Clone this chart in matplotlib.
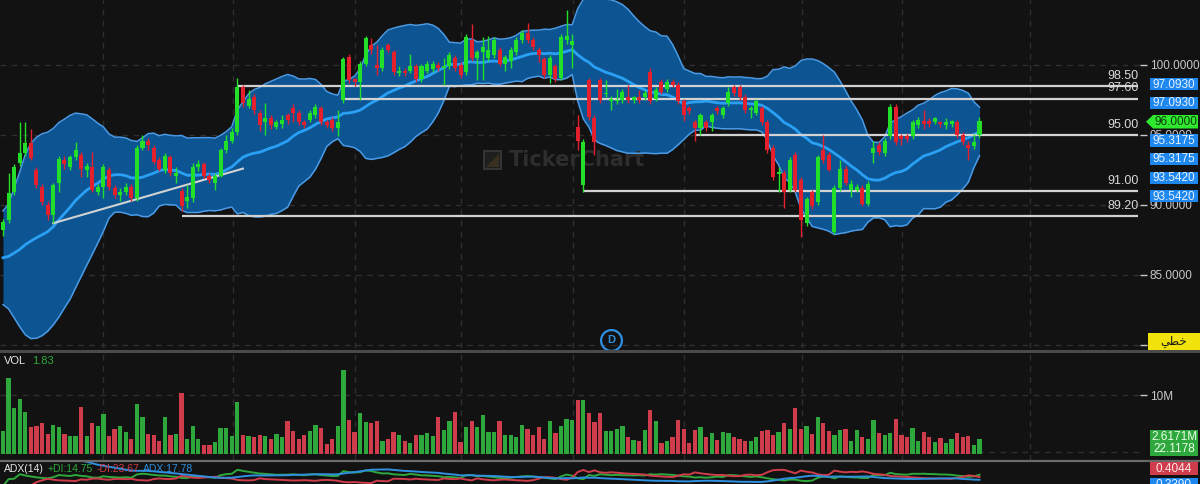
import numpy as np
import pandas as pd
import matplotlib
matplotlib.use("Agg")
import matplotlib.pyplot as plt
from matplotlib.patches import Rectangle, Polygon
from matplotlib.lines import Line2D
import matplotlib.transforms as mtransforms

# ---------------- data ----------------
opens = [88.2, 88.9, 90.9, 93.0, 93.7, 94.4, 92.5, 91.3, 90.0, 89.3,
         91.6, 93.2, 92.7, 93.4, 93.6, 92.5, 92.7, 90.9, 91.3, 92.5,
         91.2, 90.7, 90.9, 91.3, 90.5, 94.1, 94.6, 94.1, 93.2, 92.5,
         93.4, 92.1, 91.0, 90.3, 90.5, 92.7, 92.9, 92.1, 91.6, 92.1,
         93.9, 94.6, 95.2, 98.4, 97.1, 97.7, 96.6, 95.9, 96.2, 95.6,
         95.8, 96.4, 96.9, 96.6, 95.9, 96.1, 96.4, 96.9, 95.9, 96.1,
         95.5, 97.5, 100.6, 99.0, 98.8, 100.1, 101.4, 100.0, 99.8, 101.4,
         100.9, 99.4, 99.6, 99.6, 99.9, 99.0, 99.6, 99.7, 100.0, 99.8,
         99.9, 100.5, 100.0, 99.5, 101.8, 100.5, 100.9, 100.5, 100.7, 101.1,
         100.1, 100.3, 100.9, 101.8, 102.3, 101.8, 101.1, 100.4, 99.3, 99.9,
         99.1, 101.8, 101.4, 95.6, 91.4, 98.9, 96.2, 98.9, 97.9, 97.4,
         97.4, 97.5, 97.7, 97.5, 97.7, 97.7, 99.5, 97.6, 98.8, 98.3,
         98.8, 98.6, 97.4, 96.9, 95.9, 95.5, 95.9, 95.9, 96.9, 96.4,
         97.3, 98.4, 98.4, 97.7, 96.8, 96.6, 96.9, 95.9, 94.1, 92.2,
         92.3, 91.1, 93.6, 91.8, 88.7, 90.9, 90.2, 93.9, 93.6, 88.1,
         91.2, 92.6, 91.1, 91.1, 91.2, 90.1, 93.7, 94.3, 93.7, 94.9,
         97.0, 94.9, 94.9, 94.9, 95.7, 96.0, 96.0, 95.9, 95.9, 95.7,
         95.8, 95.9, 95.0, 94.3, 94.2, 95.0]
highs = [89.0, 92.3, 92.9, 95.9, 95.9, 95.4, 92.7, 91.5, 90.3, 91.6,
         93.5, 93.5, 93.6, 94.5, 93.8, 93.0, 93.8, 91.5, 92.9, 92.7,
         91.4, 91.2, 91.6, 91.5, 94.3, 95.0, 94.8, 94.3, 93.4, 93.7,
         93.6, 92.7, 91.2, 91.4, 93.0, 93.2, 93.1, 92.3, 92.3, 94.1,
         95.0, 95.5, 99.1, 98.6, 98.2, 97.9, 96.8, 97.3, 96.4, 96.1,
         96.4, 96.6, 97.2, 96.8, 96.1, 96.8, 97.2, 97.1, 96.1, 96.3,
         96.8, 100.6, 100.8, 99.1, 100.3, 102.1, 101.9, 101.4, 101.3, 101.6,
         101.1, 99.9, 99.8, 100.8, 100.1, 100.1, 100.3, 100.3, 100.2, 100.5,
         100.9, 100.7, 100.2, 102.2, 102.9, 101.1, 102.0, 102.1, 102.0, 101.3,
         100.7, 101.3, 102.0, 102.5, 103.0, 102.0, 101.3, 100.6, 100.7, 100.1,
         102.2, 103.9, 102.2, 96.4, 94.7, 99.1, 96.4, 99.1, 98.9, 97.8,
         98.3, 98.3, 98.6, 97.8, 98.2, 98.2, 99.8, 98.4, 99.0, 99.0,
         99.0, 98.8, 97.6, 97.1, 96.1, 96.6, 96.1, 96.6, 97.1, 97.1,
         98.4, 98.6, 98.6, 97.9, 97.1, 97.6, 97.1, 96.1, 94.3, 92.7,
         92.5, 93.4, 93.8, 92.0, 90.6, 91.1, 93.6, 95.0, 93.8, 91.4,
         93.2, 92.8, 91.8, 91.5, 91.4, 91.7, 94.6, 94.5, 94.8, 97.2,
         97.2, 95.1, 95.1, 96.1, 96.3, 96.8, 96.2, 96.3, 96.0, 96.2,
         96.1, 96.1, 95.2, 94.6, 95.1, 96.3]
lows = [87.8, 88.7, 90.7, 92.8, 93.5, 93.2, 91.2, 90.0, 88.9, 88.7,
        90.9, 92.6, 92.5, 93.2, 92.0, 92.0, 90.9, 90.7, 90.5, 91.1,
        90.5, 90.3, 90.7, 90.3, 90.3, 93.9, 93.9, 92.9, 92.4, 92.3,
        92.1, 91.6, 89.6, 89.8, 90.2, 92.4, 91.9, 91.6, 91.1, 92.0,
        93.7, 94.4, 95.0, 97.0, 96.9, 96.5, 95.3, 95.0, 95.4, 95.4,
        95.5, 95.8, 95.9, 95.7, 95.5, 95.9, 96.2, 95.7, 95.5, 95.3,
        94.9, 97.3, 98.7, 98.5, 97.5, 99.9, 100.8, 99.3, 99.6, 100.9,
        99.3, 99.2, 99.2, 99.4, 98.8, 98.8, 99.4, 99.5, 99.6, 98.6,
        99.7, 99.6, 99.1, 99.3, 100.3, 98.9, 98.9, 100.3, 100.5, 99.9,
        99.6, 99.8, 100.7, 101.6, 101.6, 101.1, 100.2, 99.1, 98.7, 98.8,
        98.9, 101.5, 99.8, 93.9, 90.9, 96.1, 93.6, 97.3, 97.7, 96.8,
        97.2, 97.3, 97.3, 97.3, 97.3, 97.5, 97.2, 97.4, 97.9, 98.1,
        98.4, 97.2, 96.0, 96.5, 94.6, 95.0, 95.3, 95.3, 96.5, 96.2,
        97.1, 97.8, 97.5, 96.6, 96.2, 96.4, 95.7, 93.7, 91.8, 90.9,
        89.8, 90.9, 90.9, 87.7, 88.5, 89.7, 90.0, 93.0, 92.4, 87.9,
        91.0, 91.4, 90.6, 90.9, 89.9, 89.9, 93.0, 93.6, 93.5, 94.7,
        94.3, 94.3, 94.5, 94.7, 95.5, 95.4, 95.6, 95.8, 95.6, 95.4,
        95.6, 94.8, 94.3, 93.2, 94.0, 94.8]
closes = [88.8, 90.85, 92.7, 93.7, 94.4, 93.35, 91.4, 90.2, 89.3, 91.4,
          93.3, 92.9, 93.4, 93.9, 92.6, 92.8, 91.1, 91.3, 92.7, 91.3,
          90.7, 90.9, 91.3, 90.5, 94.1, 94.6, 94.3, 93.1, 92.6, 93.5,
          92.3, 92.3, 89.9, 90.6, 92.7, 92.9, 92.1, 91.8, 92.1, 93.9,
          94.6, 95.2, 98.4, 97.3, 97.6, 96.8, 95.7, 96.2, 95.7, 95.9,
          96.1, 96.1, 96.6, 95.9, 95.7, 96.6, 97.0, 95.9, 95.7, 95.5,
          95.9, 100.4, 98.9, 98.8, 100.1, 101.9, 101.1, 99.8, 101.1, 101.1,
          99.5, 99.6, 99.4, 99.9, 99.0, 99.9, 100.1, 100.1, 99.8, 99.9,
          100.7, 99.8, 99.3, 102.0, 100.5, 100.9, 101.3, 101.1, 101.8, 100.1,
          100.6, 101.1, 101.8, 102.3, 101.8, 101.3, 100.7, 99.3, 100.5, 99.0,
          102.0, 102.1, 101.7, 94.6, 94.5, 96.3, 94.5, 97.5, 98.0, 97.6,
          97.5, 98.1, 97.5, 97.7, 97.5, 98.0, 97.4, 98.2, 98.1, 98.8,
          98.6, 97.4, 96.4, 96.7, 95.5, 96.4, 95.5, 96.4, 96.7, 96.9,
          98.1, 98.0, 97.7, 96.8, 96.9, 97.4, 95.9, 93.9, 92.0, 92.35,
          90.9, 93.2, 91.1, 88.9, 90.4, 89.9, 93.4, 93.2, 92.5, 91.2,
          92.6, 91.6, 91.5, 91.3, 90.1, 91.5, 94.1, 93.8, 94.6, 97.0,
          94.5, 94.7, 94.7, 95.9, 96.1, 95.8, 95.8, 96.2, 95.8, 95.9,
          96.0, 95.0, 94.5, 94.1, 94.5, 96.0]
# closes before the first visible candle (band warm-up)
prior_closes = [88.8, 88.0, 88.5, 87.6, 88.1, 86.8, 85.9, 85.0, 84.2, 83.6,
                83.9, 84.5, 84.1, 85.0, 85.6, 85.9, 86.4, 86.9, 87.0]
volumes_m = [3.9, 12.8, 7.8, 9.3, 7.2, 4.6, 4.8, 5.2, 3.4, 5.0,
             4.6, 3.4, 3.1, 3.0, 7.9, 3.1, 5.2, 4.7, 6.7, 3.1,
             4.3, 4.7, 3.7, 2.6, 8.4, 6.2, 3.4, 3.2, 2.2, 6.2,
             3.2, 3.4, 10.4, 2.5, 4.7, 2.6, 1.6, 1.6, 2.0, 4.4,
             4.4, 3.0, 8.8, 3.2, 3.1, 2.8, 3.3, 3.1, 2.6, 3.4,
             2.8, 5.6, 3.9, 2.6, 3.2, 3.9, 5.0, 4.4, 1.7, 2.5,
             4.8, 14.3, 5.7, 3.7, 6.9, 5.4, 5.2, 5.6, 2.2, 2.5,
             3.7, 3.3, 2.2, 1.9, 3.3, 3.2, 3.6, 3.1, 6.3, 4.1,
             5.6, 7.1, 2.1, 4.6, 5.6, 4.6, 6.6, 3.7, 3.7, 5.6,
             3.2, 3.2, 2.9, 4.9, 4.3, 3.3, 4.6, 2.5, 5.6, 3.6,
             4.8, 6.0, 5.7, 9.2, 9.1, 6.9, 5.4, 6.9, 3.9, 3.9,
             4.3, 4.7, 2.9, 2.4, 2.2, 4.0, 7.5, 5.6, 1.8, 2.2,
             2.9, 5.7, 4.2, 1.8, 4.0, 4.6, 2.9, 3.5, 2.4, 3.8,
             3.6, 2.9, 2.5, 2.2, 2.2, 2.9, 3.9, 4.1, 3.2, 3.8,
             5.2, 4.3, 7.8, 4.3, 4.7, 3.4, 6.3, 5.2, 3.9, 3.2,
             4.1, 4.3, 2.2, 4.0, 2.8, 2.5, 5.7, 3.6, 3.2, 3.6,
             6.0, 3.2, 2.8, 4.4, 2.2, 3.7, 2.9, 2.0, 2.7, 1.8,
             2.5, 3.5, 2.8, 3.1, 1.5, 2.62]

level_prices = [98.5, 97.6, 95.0, 91.0, 89.2]
level_labels = ["98.50", "97.60", "95.00", "91.00", "89.20"]
level_start = [42, 61, 124, 104, 32]
trend_idx = [9, 43]
trend_price = [88.7, 92.6]
month_grid_idx = [17.9, 41.2, 63.1, 82.1, 102.2, 122.0, 143.2, 161.1, 184.1]
price_ticks = [80, 85, 90, 95, 100]
price_tick_labels = ["", "85.0000", "90.0000", "95.0000", "100.0000"]
band_labels = ["97.0930", "97.0930", "95.3175", "95.3175", "93.5420", "93.5420"]
last_price_label = "96.0000"
event_idx = 109

# ---------------- figure ----------------
W, H = 1200, 484
BG = "#121212"
GREEN = "#22e02a"
RED = "#e4202c"
VGREEN = "#2ea83c"
VRED = "#cf3c4c"
GRID = "#2f2f2f"
TXT = "#c8c8c8"
plt.rcParams["font.family"] = ["Liberation Sans", "DejaVu Sans"]

fig = plt.figure(figsize=(W / 100, H / 100), dpi=100, facecolor=BG)


def add_ax(x0, y0, x1, y1):
    a = fig.add_axes([x0 / W, 1 - y1 / H, (x1 - x0) / W, (y1 - y0) / H])
    a.set_facecolor(BG)
    for s in a.spines.values():
        s.set_visible(False)
    return a


def fpt(x, y):
    return (x / W, 1 - y / H)


SP = 5.58
xl = (-3 / SP, -3 / SP + 1140 / SP)

ax = add_ax(0, 0, 1140, 348)
axv = add_ax(0, 353, 1140, 460)
axa = add_ax(0, 462, 1140, 484)
for a in (ax, axv, axa):
    a.set_xlim(*xl)
    a.set_xticks([])

o = np.array(opens); h = np.array(highs); l = np.array(lows); c = np.array(closes)
n = len(c)
idx = np.arange(n)

# Bollinger bands (20, 2)
full = pd.Series(prior_closes + closes)
mid = full.rolling(20).mean().values[-n:]
sd = full.rolling(20).std(ddof=0).values[-n:]
up = mid + 2 * sd
lo = mid - 2 * sd

ax.set_ylim(100 - (348 - 65) / 14, 100 + 65 / 14)
for p in price_ticks:
    ax.axhline(p, color=GRID, lw=1, ls=(0, (4, 4)), zorder=0)
for g in month_grid_idx:
    ax.axvline(g, color=GRID, lw=1, ls=(0, (4, 4)), zorder=0)
    axv.axvline(g, color=GRID, lw=1, ls=(0, (4, 4)), zorder=0)

ax.fill_between(idx, lo, up, color="#0d5592", lw=0, zorder=1)
ax.plot(idx, up, color="#4a9ae6", lw=1.1, zorder=2)
ax.plot(idx, lo, color="#4a9ae6", lw=1.1, zorder=2)
ax.plot(idx, mid, color="#2aa0f5", lw=2, zorder=2)

# watermark
ax.text(0.446, 0.54, "TickerChart", transform=ax.transAxes, fontsize=15,
        fontweight="bold", color="#2e2e2e", family="DejaVu Sans",
        ha="left", va="center", zorder=1.5)
fig.add_artist(Rectangle(fpt(484, 169), 17 / W, 18 / H, transform=fig.transFigure,
                         facecolor="#1e1e1e", edgecolor="#3a3a3a", lw=1.2, zorder=1))
fig.add_artist(Polygon([fpt(486, 167), fpt(499, 167), fpt(499, 154)], closed=True,
                       transform=fig.transFigure, facecolor="#3a3020", edgecolor="none", zorder=1))

# levels
xend = xl[1] - 0.3
for p, lab, s in zip(level_prices, level_labels, level_start):
    ax.hlines(p, s, xend, color="#d2d2d2", lw=1.6, zorder=3)
    ax.annotate(lab, (xend, p), xytext=(0, 3), textcoords="offset points",
                ha="right", va="bottom", color="#d8d8d8", fontsize=9, zorder=6)
ax.plot(trend_idx, trend_price, color="#d2d2d2", lw=1.5, zorder=3)

# candles
cols = np.where(c >= o, GREEN, RED)
ax.vlines(idx, l, h, colors=cols, lw=1, zorder=4)
body_b = np.minimum(o, c)
body_h = np.maximum(np.abs(c - o), 0.06)
ax.bar(idx, body_h, bottom=body_b, width=0.72, color=cols, lw=0, zorder=5)

# right price axis
ax.yaxis.tick_right()
ax.set_yticks(price_ticks)
ax.set_yticklabels(price_tick_labels)
ax.tick_params(axis="y", colors=TXT, length=5, width=1, pad=2, labelsize=8.5)

# event marker
trans = mtransforms.blended_transform_factory(ax.transData, ax.transAxes)
ax.plot([event_idx], [0.023], transform=trans, marker="o", ms=15, mfc="none",
        mec="#2f8fe0", mew=1.6, clip_on=False, zorder=6)
ax.text(event_idx, 0.023, "D", transform=trans, ha="center", va="center",
        color="#2f8fe0", fontsize=8, fontweight="bold", zorder=6)

# volume panel
vol = np.array(volumes_m)
vcols = np.where(c >= o, VGREEN, VRED)
axv.set_ylim(-(460 - 454) / 5.9, (454 - 353) / 5.9)
axv.axhline(10, color=GRID, lw=1, ls=(0, (4, 4)), zorder=0)
axv.axhline(0.3, color=GRID, lw=1, ls=(0, (4, 4)), zorder=0)
axv.bar(idx, vol, width=0.76, color=vcols, lw=0, zorder=3)
axv.yaxis.tick_right()
axv.set_yticks([10])
axv.set_yticklabels(["10M"])
axv.tick_params(axis="y", colors=TXT, length=5, width=1, pad=2, labelsize=8.5)
fig.text(*fpt(4, 364), "VOL", color="#e6e6e6", fontsize=8)
fig.text(*fpt(32, 364), "1.83", color=VGREEN, fontsize=8)

# ADX panel
prev_c = np.r_[c[0], c[:-1]]
tr = np.maximum(h - l, np.maximum(np.abs(h - prev_c), np.abs(l - prev_c)))
upm = h - np.r_[h[0], h[:-1]]
dnm = np.r_[l[0], l[:-1]] - l
pdm = np.where((upm > dnm) & (upm > 0), upm, 0.0)
mdm = np.where((dnm > upm) & (dnm > 0), dnm, 0.0)
atr = pd.Series(tr).ewm(alpha=1 / 14, adjust=False).mean()
pdi = 100 * pd.Series(pdm).ewm(alpha=1 / 14, adjust=False).mean() / atr
mdi = 100 * pd.Series(mdm).ewm(alpha=1 / 14, adjust=False).mean() / atr
dx = 100 * (pdi - mdi).abs() / (pdi + mdi)
adx = dx.ewm(alpha=1 / 14, adjust=False).mean()
axa.set_ylim(5, 60)
axa.set_yticks([])
axa.plot(idx, pdi, color=VGREEN, lw=1.4)
axa.plot(idx, mdi, color=VRED, lw=1.4)
axa.plot(idx, adx, color="#2f8fe0", lw=1.4)
fig.text(*fpt(4, 472), "ADX(14)", color="#e6e6e6", fontsize=7.5)
fig.text(*fpt(48, 472), "+DI:14.75", color=VGREEN, fontsize=7.5)
fig.text(*fpt(97, 472), "-DI:23.67", color=VRED, fontsize=7.5)
fig.text(*fpt(143, 472), "ADX:17.78", color="#2f8fe0", fontsize=7.5)

# separators
for yy, lw, col in [(350.5, 2.2, "#4a4a4a"), (461, 1.6, "#6a6a6a")]:
    fig.add_artist(Line2D([0, 1], [1 - yy / H] * 2, transform=fig.transFigure,
                          color=col, lw=lw, zorder=2))


# right side boxes
def box(x0, y0, x1, y1, color, text, tcolor, fs=8.5):
    fig.add_artist(Rectangle(fpt(x0, y1), (x1 - x0) / W, (y1 - y0) / H,
                             transform=fig.transFigure, facecolor=color,
                             edgecolor="none", zorder=8))
    if text:
        fig.text(*fpt((x0 + x1) / 2, (y0 + y1) / 2 + 0.5), text, color=tcolor,
                 fontsize=fs, ha="center", va="center", zorder=9)


BLUE = "#1e88ee"
box_rows = [(78, 90), (97, 108.5), (133.5, 146.5), (153, 165), (172, 183.5), (190, 202)]
for (y0, y1), t in zip(box_rows, band_labels):
    box(1150, y0, 1198, y1, BLUE, t, "#e8f2ff")

fig.add_artist(Polygon([fpt(1146, 121.7), fpt(1153, 115), fpt(1198, 115),
                        fpt(1198, 128.5), fpt(1153, 128.5)], closed=True,
                       transform=fig.transFigure, facecolor="#2ee82e",
                       edgecolor="none", zorder=8))
fig.text(*fpt(1175.5, 122.2), last_price_label, color="#0c3a0c", fontsize=8.5,
         ha="center", va="center", zorder=9)

box(1150, 430, 1198, 456, "#2ea83c", None, None)
fig.text(*fpt(1174, 437), "2.6171M", color="#eaffea", fontsize=8.5, ha="center", va="center", zorder=9)
fig.text(*fpt(1174, 449.5), "22.1178", color="#eaffea", fontsize=8.5, ha="center", va="center", zorder=9)
box(1150, 462, 1198, 474.5, "#cf3c4c", "0.4044", "#ffe8ea")
box(1150, 477.5, 1198, 490, BLUE, None, None)
fig.text(*fpt(1174, 484.5), "0.3390", color="#e8f2ff", fontsize=8.5, ha="center", va="center", zorder=9)

# yellow chart-type box (Arabic, visual order presentation forms)
box(1148, 333, 1200, 349.5, "#f0e20a", None, None)
fig.text(*fpt(1174, 341.5), "\ufef2\ufec4\ufea7", color="#1a1a1a", fontsize=8.5,
         family="DejaVu Sans", ha="center", va="center", zorder=9)

fig.savefig("out.png", dpi=100, facecolor=BG)
